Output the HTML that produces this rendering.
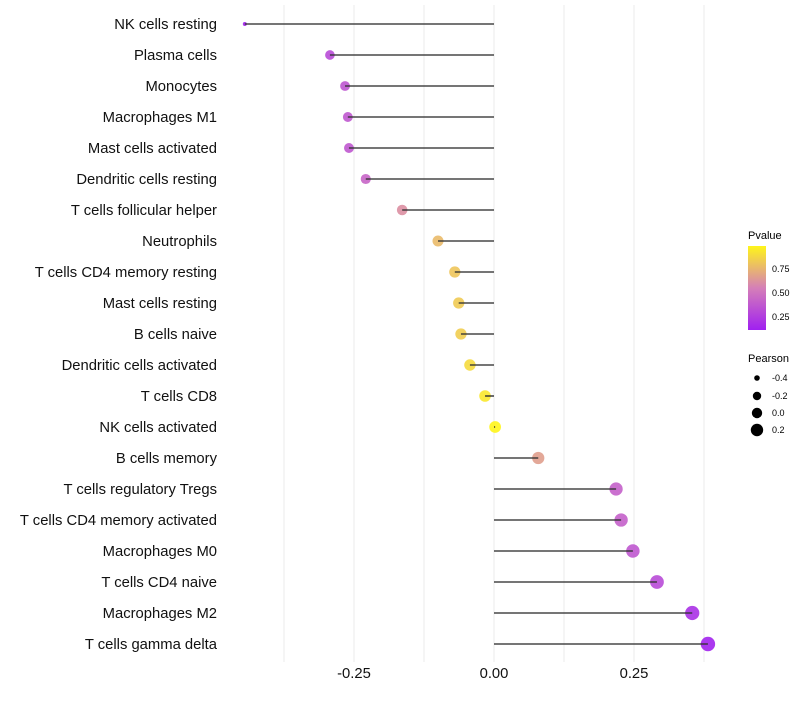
<!DOCTYPE html>
<html><head><meta charset="utf-8">
<style>
body{margin:0;background:#fff;font-family:"Liberation Sans",sans-serif;}
svg text{font-family:"Liberation Sans",sans-serif;}
</style></head>
<body>
<svg id="chart" width="800" height="700" xmlns="http://www.w3.org/2000/svg">
<g id="grid"></g>
<g id="marks"></g>
<g id="ylabels"></g>
<g id="xlabels"></g>
<g id="legend">
<defs><linearGradient id="pg" x1="0" y1="1" x2="0" y2="0">
<stop offset="0" stop-color="#A020F0"/><stop offset="0.5" stop-color="#D57FB8"/><stop offset="1" stop-color="#FFF51A"/></linearGradient></defs>
<text x="748" y="239" font-size="11">Pvalue</text>
<rect x="748" y="246" width="18" height="84" fill="url(#pg)"/>
<text x="772" y="272" font-size="9">0.75</text>
<text x="772" y="296" font-size="9">0.50</text>
<text x="772" y="320" font-size="9">0.25</text>
<text x="748" y="362" font-size="11">Pearson</text>
<circle cx="757" cy="378" r="2.8" fill="#000"/>
<text x="772" y="381" font-size="9">-0.4</text>
<circle cx="757" cy="396" r="4.2" fill="#000"/>
<text x="772" y="399" font-size="9">-0.2</text>
<circle cx="757" cy="413" r="5.2" fill="#000"/>
<text x="772" y="416" font-size="9">0.0</text>
<circle cx="757" cy="430" r="6.2" fill="#000"/>
<text x="772" y="433" font-size="9">0.2</text>
</g>
</svg>
<script>
const categories=["NK cells resting","Plasma cells","Monocytes","Macrophages M1","Mast cells activated","Dendritic cells resting","T cells follicular helper","Neutrophils","T cells CD4 memory resting","Mast cells resting","B cells naive","Dendritic cells activated","T cells CD8","NK cells activated","B cells memory","T cells regulatory  Tregs ","T cells CD4 memory activated","Macrophages M0","T cells CD4 naive","Macrophages M2","T cells gamma delta"];
const pearson=[-0.445,-0.293,-0.266,-0.261,-0.259,-0.229,-0.164,-0.1,-0.07,-0.063,-0.059,-0.043,-0.016,0.002,0.079,0.218,0.227,0.248,0.291,0.354,0.382];
const pvalues=[0.12,0.3,0.35,0.36,0.36,0.42,0.6,0.76,0.8,0.82,0.83,0.88,0.93,0.99,0.66,0.4,0.4,0.36,0.3,0.18,0.12];
const xTicks=[-0.25,0,0.25];
const xTickLabels=["-0.25","0.00","0.25"];
const gridVals=[-0.375,-0.25,-0.125,0,0.125,0.25,0.375];
const NS="http://www.w3.org/2000/svg";
const x=v=>494+v*560;
const y=i=>24+i*31;
const rad=v=>v<-0.3?2+(v+0.445)/0.145*2.8:4.8+(v+0.3)/0.68*2.4;
function lerp(a,b,t){return a.map((c,k)=>Math.round(c+(b[k]-c)*t));}
function col(p){const t=Math.max(0,Math.min(1,(p-0.1)/0.88));
 const A=[160,32,240],M=[213,127,184],B=[255,245,26];
 const c=t<0.5?lerp(A,M,t/0.5):lerp(M,B,(t-0.5)/0.5);return `rgb(${c})`;}
function el(tag,attrs){const e=document.createElementNS(NS,tag);for(const k in attrs)e.setAttribute(k,attrs[k]);return e;}
const grid=document.getElementById('grid');
gridVals.forEach(v=>{const l=el('line',{x1:x(v),x2:x(v),y1:5,y2:662,stroke:'#ebebeb','stroke-width':1});


grid.appendChild(l);});
const marks=document.getElementById('marks'),yl=document.getElementById('ylabels'),xl=document.getElementById('xlabels');
categories.forEach((c,i)=>{
 const pt=el('circle',{cx:x(pearson[i]),cy:y(i),r:rad(pearson[i]),fill:col(pvalues[i]),'fill-opacity':0.9});
 
 
 marks.appendChild(pt);
 const s=el('line',{x1:x(0),x2:x(pearson[i]),y1:y(i),y2:y(i),stroke:'#333','stroke-width':1.6,'stroke-opacity':0.9});
 
 
 marks.appendChild(s);
 const t=el('text',{x:217,y:y(i)+5,'text-anchor':'end','font-size':14.8,fill:'#111'});
 t.textContent=c;
 
 
 yl.appendChild(t);
});
xTicks.forEach((v,i)=>{const t=el('text',{x:x(v),y:678,'text-anchor':'middle','font-size':14.8,fill:'#111'});
t.textContent=xTickLabels[i];


xl.appendChild(t);});
</script>
</body></html>
